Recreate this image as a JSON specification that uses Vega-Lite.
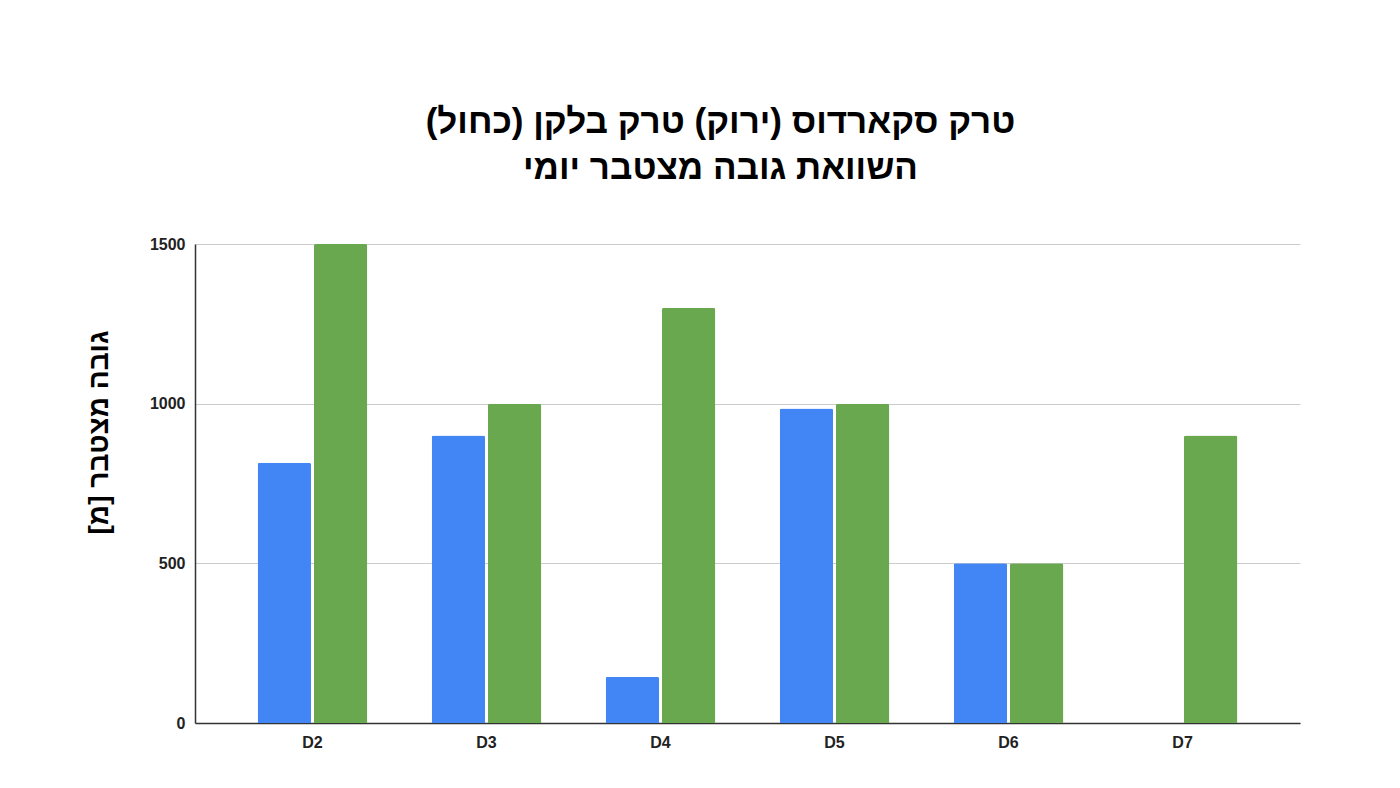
{
  "$schema": "https://vega.github.io/schema/vega-lite/v6.json",
  "description": "Daily cumulative ascent, Balkan trek (blue) vs Scardus trek (green).",
  "autosize": {"type": "none"},
  "padding": {"left": 195, "top": 244, "right": 100, "bottom": 65},
  "width": 1105,
  "height": 479,
  "background": "white",
  "title": {
    "text": ["טרק סקארדוס (ירוק) טרק בלקן (כחול)", "השוואת גובה מצטבר יומי"],
    "font": "Liberation Sans",
    "fontSize": 35,
    "fontWeight": "bold",
    "lineHeight": 46,
    "color": "#000000",
    "anchor": "middle",
    "dx": -27,
    "offset": 50
  },
  "data": {
    "values": [
      {"day": "D2", "trek": "Balkan", "height": 815},
      {"day": "D2", "trek": "Scardus", "height": 1500},
      {"day": "D3", "trek": "Balkan", "height": 900},
      {"day": "D3", "trek": "Scardus", "height": 1000},
      {"day": "D4", "trek": "Balkan", "height": 145},
      {"day": "D4", "trek": "Scardus", "height": 1300},
      {"day": "D5", "trek": "Balkan", "height": 985},
      {"day": "D5", "trek": "Scardus", "height": 1000},
      {"day": "D6", "trek": "Balkan", "height": 500},
      {"day": "D6", "trek": "Scardus", "height": 500},
      {"day": "D7", "trek": "Scardus", "height": 900}
    ]
  },
  "mark": {"type": "bar", "cornerRadiusTopLeft": 2, "cornerRadiusTopRight": 2},
  "encoding": {
    "x": {
      "field": "day",
      "type": "nominal",
      "sort": ["D2", "D3", "D4", "D5", "D6", "D7"],
      "scale": {"paddingInner": 0.37, "paddingOuter": 0.36},
      "axis": {
        "title": null,
        "labelAngle": 0,
        "labelFont": "Liberation Sans",
        "labelFontSize": 16,
        "labelFontWeight": "bold",
        "labelColor": "#222222",
        "labelPadding": 11,
        "ticks": false,
        "domainColor": "#333333",
        "domainWidth": 1.5
      }
    },
    "xOffset": {
      "field": "trek",
      "type": "nominal",
      "sort": ["Balkan", "Scardus"],
      "scale": {"domain": ["Balkan", "Scardus"], "paddingInner": 0.05}
    },
    "y": {
      "field": "height",
      "type": "quantitative",
      "scale": {"domain": [0, 1500]},
      "axis": {
        "title": "גובה מצטבר [מ]",
        "titleFont": "Liberation Sans",
        "titleFontSize": 28,
        "titleFontWeight": "bold",
        "titleColor": "#000000",
        "titlePadding": 36,
        "titleY": 188,
        "values": [0, 500, 1000, 1500],
        "format": "d",
        "labelFont": "Liberation Sans",
        "labelFontSize": 16,
        "labelFontWeight": "bold",
        "labelColor": "#222222",
        "labelPadding": 10,
        "ticks": false,
        "domainColor": "#333333",
        "domainWidth": 1.5,
        "gridColor": "#cccccc",
        "gridWidth": 1
      }
    },
    "color": {
      "field": "trek",
      "type": "nominal",
      "scale": {"domain": ["Balkan", "Scardus"], "range": ["#4285F4", "#6AA84F"]},
      "legend": null
    }
  },
  "config": {
    "view": {"stroke": null}
  }
}
